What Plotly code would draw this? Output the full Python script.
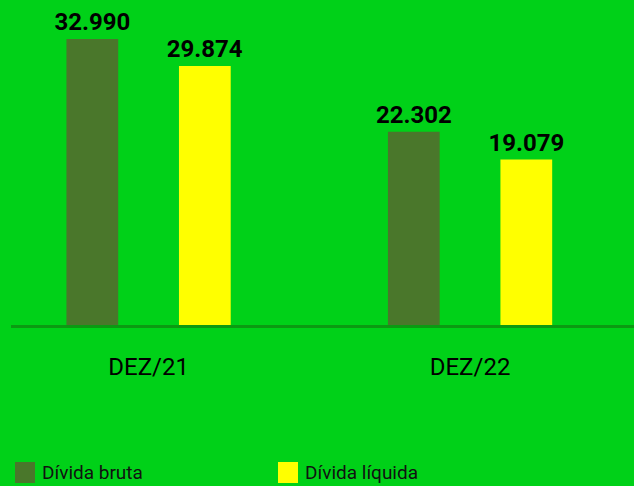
import plotly.graph_objects as go

categories = ["DEZ/21", "DEZ/22"]
series_names = ["Dívida bruta", "Dívida líquida"]
divida_bruta = [32990, 22302]
divida_liquida = [29874, 19079]

BG = "#00D118"
COLORS = ["#4A772B", "#FFFF00"]
LINE = "#0B9A12"

fig = go.Figure()
for name, vals, col in zip(series_names, [divida_bruta, divida_liquida], COLORS):
    fig.add_trace(go.Bar(
        x=categories, y=vals, name=name, marker_color=col, marker_line_width=0,
        texttemplate="%{y:,.0f}", textposition="outside", cliponaxis=False,
        constraintext="none",
        textfont=dict(family="Roboto", size=24, color="black", weight="bold"),
        showlegend=False,
    ))

# custom legend
legend_x = [15, 278]
for name, col, lx in zip(series_names, COLORS, legend_x):
    fig.add_shape(type="rect", xref="paper", yref="paper",
                  x0=(lx - 11) / 623, x1=(lx + 20 - 11) / 623,
                  y0=(325 - 462) / 325, y1=(325 - 483) / 325,
                  fillcolor=col, line_width=0)
    fig.add_annotation(text=name, xref="paper", yref="paper",
                       x=(lx + 25 - 11) / 623, y=(325 - 473) / 325,
                       xanchor="left", yanchor="middle", showarrow=False,
                       font=dict(family="Roboto", size=19, color="#111"))

fig.update_layout(
    width=634, height=486,
    margin=dict(l=11, r=0, t=0, b=161),
    paper_bgcolor=BG, plot_bgcolor=BG,
    barmode="group", bargap=0.30, bargroupgap=0.54,
    separators=",.",
    showlegend=False,
)
fig.update_xaxes(range=[-0.428, 1.51], showline=True, linecolor=LINE, linewidth=3,
                 showgrid=False, ticks="", ticklabelstandoff=18,
                 tickfont=dict(family="Roboto", size=24, color="black"))
fig.update_yaxes(range=[0, 32990 * 325 / 286], visible=False, showgrid=False, zeroline=False)

fig.write_html("out.html", config={"displayModeBar": False},
               post_script="document.body.style.margin='0';document.body.style.background='%s';" % BG)
